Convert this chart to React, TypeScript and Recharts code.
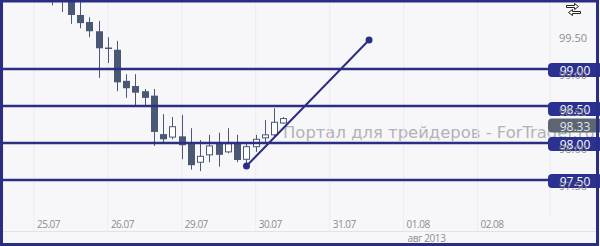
import React from 'react';
import {
  ComposedChart,
  Bar,
  XAxis,
  YAxis,
  CartesianGrid,
  ReferenceLine,
  ReferenceDot,
} from 'recharts';

// 3h candles, t = candle slot (8 per trading day, 0 = start of 25.07)
const times = [2, 3, 4, 5, 6, 7, 8, 9, 10, 11, 12, 13, 14, 15, 16, 17, 18, 19, 20, 21, 22, 23, 24, 25, 26, 27];
const opens = [100.0, 100.05, 99.93, 99.73, 99.635, 99.51, 99.29, 99.26, 98.84, 98.77, 98.7, 98.64, 98.12, 98.08, 98.09, 98.0, 97.74, 97.84, 98.0, 97.88, 98.0, 97.78, 97.95, 98.07, 98.11, 98.27];
const highs = [100.1, 100.1, 100.0, 99.95, 99.7, 99.65, 99.43, 99.38, 98.93, 98.93, 98.73, 98.73, 98.39, 98.35, 98.38, 98.2, 98.04, 98.11, 98.14, 98.2, 98.11, 98.0, 98.11, 98.31, 98.47, 98.35];
const lows = [99.86, 99.77, 99.61, 99.55, 99.43, 98.88, 99.08, 98.7, 98.61, 98.5, 98.49, 97.96, 97.99, 98.05, 97.78, 97.64, 97.62, 97.74, 97.68, 97.86, 97.74, 97.7, 97.88, 98.01, 98.08, 98.26];
const closes = [99.93, 99.93, 99.73, 99.62, 99.51, 99.28, 99.28, 98.82, 98.74, 98.68, 98.61, 98.15, 98.05, 98.22, 97.97, 97.7, 97.82, 97.96, 97.84, 97.99, 97.77, 97.95, 98.05, 98.11, 98.28, 98.33];

const dayTicks = [0, 8, 16, 24, 32, 40, 48];
const dayLabels = ['25.07', '26.07', '29.07', '30.07', '31.07', '01.08', '02.08'];
const monthLabel = 'авг 2013';
const monthTick = 40;

const priceTicks = [97.5, 98.0, 98.5, 99.0, 99.5];
const levels = [99.0, 98.5, 98.0, 97.5];
const levelShift = [1, 3, 1, 1];
const lastPrice = 98.33;

const trendStart = { t: 23, price: 97.69 };
const trendEnd = { t: 36.26, price: 99.392 };

const candles = times.map((t, i) => ({
  t,
  open: opens[i],
  high: highs[i],
  low: lows[i],
  close: closes[i],
}));

const NAVY = '#2b2f84';
const BOX = '#2a3190';
const CANDLE = '#4a5876';

const Candle = (props: any) => {
  const { x, y, width, height, payload } = props;
  const { open, close, high, low } = payload;
  const top = Math.min(y, y + height);
  const h = Math.abs(height);
  const k = h / (high - low || 1);
  const cx = Math.round(x + width / 2);
  const bTop = top + (high - Math.max(open, close)) * k;
  const bBot = top + (high - Math.min(open, close)) * k;
  const up = close > open;
  return (
    <g>
      <line x1={cx + 0.5} x2={cx + 0.5} y1={top} y2={top + h} stroke={CANDLE} strokeWidth={1} />
      {up ? (
        <rect x={cx - 2.5} y={bTop} width={6} height={Math.max(bBot - bTop, 1)} fill="#ffffff" stroke={CANDLE} strokeWidth={1} />
      ) : (
        <rect x={cx - 3} y={bTop} width={7} height={Math.max(bBot - bTop, 1.5)} fill={CANDLE} />
      )}
    </g>
  );
};

const YTick = (props: any) => {
  const { y, payload } = props;
  return (
    <text x={573} y={y + 6} textAnchor="middle" dominantBaseline="central" fontSize={11} fill="#8c8c8c">
      {Number(payload.value).toFixed(2)}
    </text>
  );
};

const XTick = (props: any) => {
  const { x, payload } = props;
  const i = dayTicks.indexOf(payload.value);
  return (
    <g>
      <line x1={x} x2={x} y1={216} y2={231} stroke="#ececf1" />
      <text x={x + 3} y={228} fontSize={10} letterSpacing={-0.5} fill="#8c8c8c">
        {dayLabels[i]}
      </text>
      {payload.value === monthTick && (
        <text x={x + 4} y={241.5} fontSize={10} letterSpacing={-0.4} fill="#8c8c8c">
          {monthLabel}
        </text>
      )}
    </g>
  );
};

const LevelLabel = (props: any) => {
  const { viewBox, text, dy, fill, color } = props;
  const { x, width, y } = viewBox;
  const bx = x + width - 2;
  const cy = y + dy;
  return (
    <g>
      <rect x={bx} y={cy - 7} width={54} height={14} rx={4} fill={fill} />
      <text x={bx + 27} y={cy + 0.5} textAnchor="middle" dominantBaseline="central" fontSize={12} fill={color}>
        {text}
      </text>
    </g>
  );
};

export default function App() {
  return (
    <div style={{ position: 'absolute', left: 0, top: 0, width: 600, height: 246, background: '#f7f7f9', fontFamily: '"Open Sans", sans-serif' }}>
      <svg width={600} height={246} style={{ position: 'absolute', left: 0, top: 0 }}>
        <text x={283} y={138} fontSize={15} fontFamily="DejaVu Sans" fill="#b2b2b8" textLength={312} lengthAdjust="spacingAndGlyphs">
          Портал для трейдеров - ForTrader.ru
        </text>
        <line x1={3} x2={597} y1={231.5} y2={231.5} stroke="#e2e2e8" />
      </svg>
      <div style={{ position: 'absolute', left: 0, top: 0 }}>
        <ComposedChart width={600} height={246} data={candles} margin={{ top: 2, right: 3, bottom: 0, left: 3 }} style={{ fontFamily: '"Open Sans", sans-serif' }}>
          <CartesianGrid vertical horizontal={false} stroke="#ececf1" />
          <XAxis
            dataKey="t"
            type="number"
            domain={[-3.35, 55.84]}
            ticks={dayTicks}
            tick={<XTick />}
            axisLine={false}
            tickLine={false}
            height={30}
            allowDataOverflow
            interval={0}
          />
          <YAxis
            orientation="right"
            type="number"
            domain={[97.0135, 99.9054]}
            ticks={priceTicks}
            tick={<YTick />}
            axisLine={false}
            tickLine={false}
            width={47}
            allowDataOverflow
            interval={0}
          />
          <Bar dataKey={(d: any) => [d.low, d.high]} barSize={7} shape={<Candle />} isAnimationActive={false} />
          {levels.map((lv, i) => (
            <ReferenceLine
              key={lv}
              y={lv}
              stroke={NAVY}
              strokeWidth={2.5}
              label={<LevelLabel text={lv.toFixed(2)} dy={levelShift[i]} fill={BOX} color="#ffffff" />}
            />
          ))}
          <ReferenceLine
            y={lastPrice}
            stroke="none"
            label={<LevelLabel text={lastPrice.toFixed(2)} dy={7} fill="#5d6472" color="#e4e6ea" />}
          />
          <ReferenceLine
            segment={[
              { x: trendStart.t, y: trendStart.price },
              { x: trendEnd.t, y: trendEnd.price },
            ]}
            stroke={NAVY}
            strokeWidth={2}
          />
          <ReferenceDot x={trendStart.t} y={trendStart.price} r={3.5} fill={NAVY} stroke="none" />
          <ReferenceDot x={trendEnd.t} y={trendEnd.price} r={3.5} fill={NAVY} stroke="none" />
        </ComposedChart>
      </div>
      <svg width={600} height={246} style={{ position: 'absolute', left: 0, top: 0, pointerEvents: 'none' }}>
        <rect x={1.5} y={1} width={596} height={243.5} fill="none" stroke="#2a2d84" strokeWidth={3} />
        <g fill="#ffffff" stroke="#222" strokeWidth={1}>
          <path d="M566.5 5.5 h8 v-2 l4 3 l-4 3 v-2 h-8 z" />
          <path d="M580.5 11.5 h-8 v-2 l-4 3 l4 3 v-2 h8 z" />
        </g>
      </svg>
    </div>
  );
}
